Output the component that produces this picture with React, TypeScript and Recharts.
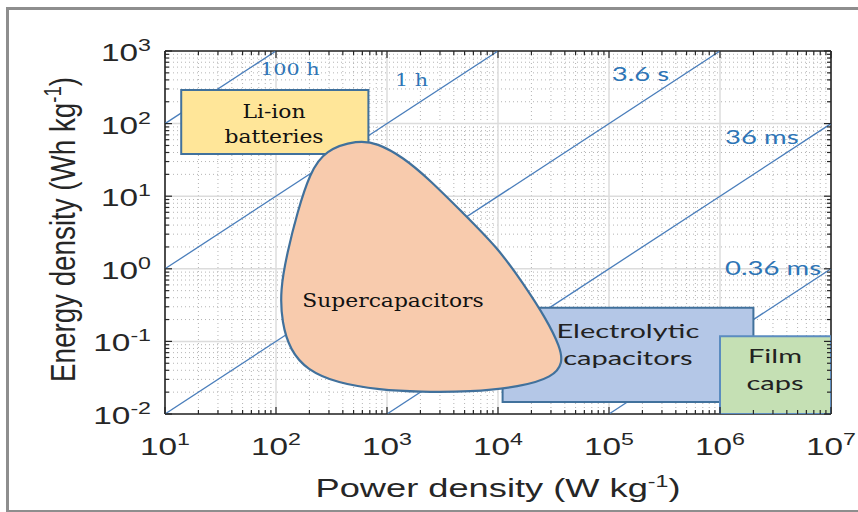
import React from 'react';
import { ScatterChart, Scatter, XAxis, YAxis, CartesianGrid, Label } from 'recharts';

// axis decades and minor multipliers
const xDecades = [10, 100, 1000, 1e4, 1e5, 1e6, 1e7];
const yDecades = [0.01, 0.1, 1, 10, 100, 1000];
const minorSteps = [2, 3, 4, 5, 6, 7, 8, 9];

// regions (P in W/kg, E in Wh/kg)
const liIonBox = [
  { x: 14, y: 38 }, { x: 680, y: 38 }, { x: 680, y: 290 }, { x: 14, y: 290 },
];
const electrolyticBox = [
  { x: 1.1e4, y: 0.0146 }, { x: 2e6, y: 0.0146 }, { x: 2e6, y: 0.29 }, { x: 1.1e4, y: 0.29 },
];
const filmBox = [
  { x: 1e6, y: 0.01 }, { x: 1e7, y: 0.01 }, { x: 1e7, y: 0.118 }, { x: 1e6, y: 0.118 },
];
const superCapOutline = [
  { x: 548, y: 59.4 }, { x: 276, y: 43.3 }, { x: 202, y: 20.9 }, { x: 155, y: 5.87 },
  { x: 126, y: 1.65 }, { x: 109, y: 0.51 }, { x: 113, y: 0.179 }, { x: 134, y: 0.076 },
  { x: 190, y: 0.0404 }, { x: 355, y: 0.0267 }, { x: 865, y: 0.0214 }, { x: 1980, y: 0.0201 },
  { x: 5600, y: 0.0201 }, { x: 15800, y: 0.0236 }, { x: 31300, y: 0.0323 }, { x: 38500, y: 0.0504 },
  { x: 36200, y: 0.0837 }, { x: 27600, y: 0.197 }, { x: 16800, y: 0.637 }, { x: 9800, y: 2.0 },
  { x: 4840, y: 5.87 }, { x: 2440, y: 16.7 }, { x: 1390, y: 34.7 }, { x: 813, y: 54 },
];

// constant discharge-time lines (end points)
const line100h = [{ x: 10, y: 100 }, { x: 100, y: 1000 }];
const line1h = [{ x: 10, y: 1 }, { x: 1e4, y: 1000 }];
const line3s = [{ x: 10, y: 0.01 }, { x: 1e6, y: 1000 }];
const line36ms = [{ x: 1000, y: 0.01 }, { x: 1e7, y: 100 }];
const line036ms = [{ x: 1e5, y: 0.01 }, { x: 1e7, y: 1 }];
const timeLines = [line100h, line1h, line3s, line36ms, line036ms];

const serifTimeLabels = [
  { x: 72, y: 467, text: '100 h' },
  { x: 1180, y: 330, text: '1 h' },
];
const sansTimeLabels = [
  { x: 1.06e5, y: 386, text: '3.6 s' },
  { x: 1.11e6, y: 52, text: '36 ms' },
  { x: 1.11e6, y: 0.82, text: '0.36 ms' },
];
const serifRegionLabels = [
  { x: 96, y: 119, text: 'Li-ion\nbatteries' },
  { x: 1132, y: 0.3, text: 'Supercapacitors' },
];
const sansRegionLabels = [
  { x: 1.48e5, y: 0.111, text: 'Electrolytic\ncapacitors' },
  { x: 3.13e6, y: 0.0504, text: 'Film\ncaps' },
];
const corners = [{ x: 10, y: 0.01 }, { x: 1e7, y: 1000 }];

const xTicks = [...xDecades, ...xDecades.slice(0, -1).flatMap((d) => minorSteps.map((m) => d * m))].sort((a, b) => a - b);
const yTicks = [...yDecades, ...yDecades.slice(0, -1).flatMap((d) => minorSteps.map((m) => d * m))].sort((a, b) => a - b);
const xMinor = xTicks.filter((v) => !xDecades.includes(v));
const yMinor = yTicks.filter((v) => !yDecades.includes(v));

const SX = 1.45;
const SX_SERIF = 1.15;
const AXIS = '#262626';
const EDGE = '#41719c';
const LINE = '#4a7ebb';
const BLUE_TXT = '#2e75b6';
const SANS = 'Liberation Sans, Arial, sans-serif';
const SERIF = 'DejaVu Serif, serif';
const CALI = 'Lato, Open Sans, sans-serif';

const isMajor = (v: number) => xDecades.includes(v) || yDecades.includes(v);
const expOf = (v: number) => String(Math.round(Math.log10(v)));

const Pow = ({ x, y, v, anchor }: any) => (
  <g transform={`translate(${x} ${y}) scale(${SX} 1)`}>
    <text x={0} y={0} textAnchor={anchor} style={{ fontFamily: SANS }} fontSize={23} fill={AXIS}>
      <tspan>10</tspan>
      <tspan dy={-10} fontSize={16}>{expOf(v)}</tspan>
    </text>
  </g>
);

const BottomTick = (p: any) => {
  const v = p.payload.value;
  const len = isMajor(v) ? 7 : 4;
  return (
    <g>
      <line x1={p.x} x2={p.x} y1={p.y} y2={p.y - len} stroke={AXIS} strokeWidth={1.2} />
      {isMajor(v) && <Pow x={p.x} y={p.y + 41} v={v} anchor="middle" />}
    </g>
  );
};
const LeftTick = (p: any) => {
  const v = p.payload.value;
  const len = isMajor(v) ? 7 : 4;
  return (
    <g>
      <line x1={p.x} x2={p.x + len} y1={p.y} y2={p.y} stroke={AXIS} strokeWidth={1.2} />
      {isMajor(v) && <Pow x={p.x - 14} y={p.y + 10} v={v} anchor="end" />}
    </g>
  );
};
const TopTick = (p: any) => {
  const len = isMajor(p.payload.value) ? 7 : 4;
  return <line x1={p.x} x2={p.x} y1={p.y} y2={p.y + len} stroke={AXIS} strokeWidth={1.2} />;
};
const RightTick = (p: any) => {
  const len = isMajor(p.payload.value) ? 7 : 4;
  return <line x1={p.x} x2={p.x - len} y1={p.y} y2={p.y} stroke={AXIS} strokeWidth={1.2} />;
};

const NoShape = () => <g />;

function MultiLine({ cx, cy, text, family, size, fill, anchor, lh, sx }: any) {
  const lines = String(text).split('\n');
  return (
    <g transform={`translate(${cx} ${cy}) scale(${sx} 1)`}>
      <text x={0} y={0} textAnchor={anchor} style={{ fontFamily: family, fontSize: size }} fill={fill}>
        {lines.map((l, i) => (
          <tspan key={i} x={0} dy={i === 0 ? 0 : lh}>{l}</tspan>
        ))}
      </text>
    </g>
  );
}

const SerifTimeLabel = (p: any) => (
  <MultiLine cx={p.cx} cy={p.cy} text={p.payload.text} family={SERIF} size={17} fill={BLUE_TXT} anchor="start" lh={0} sx={1.22} />
);
const SansTimeLabel = (p: any) => (
  <MultiLine cx={p.cx} cy={p.cy} text={p.payload.text} family={CALI} size={19} fill={BLUE_TXT} anchor="start" lh={0} sx={SX} />
);
const SerifRegionLabel = (p: any) => (
  <MultiLine cx={p.cx} cy={p.cy} text={p.payload.text} family={SERIF} size={19} fill="#111" anchor="middle" lh={25} sx={SX_SERIF} />
);
const SansRegionLabel = (p: any) => (
  <MultiLine cx={p.cx} cy={p.cy} text={p.payload.text} family={CALI} size={20} fill="#222" anchor="middle" lh={27} sx={SX} />
);

const XTitle = (p: any) => {
  const vb = p.viewBox;
  return (
    <g transform={`translate(${vb.x + vb.width / 2} ${vb.y + 83}) scale(${SX} 1)`}>
      <text textAnchor="middle" style={{ fontFamily: SANS }} fontSize={25} fill={AXIS}>
        Power density (W kg<tspan dy={-10} fontSize={16}>-1</tspan><tspan dy={10}>)</tspan>
      </text>
    </g>
  );
};
const YTitle = (p: any) => {
  const vb = p.viewBox;
  return (
    <g transform={`translate(75 ${vb.y + vb.height / 2 - 3}) scale(${SX} 1) rotate(-90)`}>
      <text textAnchor="middle" style={{ fontFamily: SANS }} fontSize={24} fill={AXIS} textLength={305} lengthAdjust="spacingAndGlyphs">
        Energy density (Wh kg<tspan dy={-10} fontSize={16}>-1</tspan><tspan dy={10}>)</tspan>
      </text>
    </g>
  );
};

export default function App() {
  return (
    <div style={{ position: 'absolute', left: 0, top: 0, width: 858, height: 512, background: '#fff' }}>
      <div
        style={{
          position: 'absolute', left: 6, top: 7, width: 880, height: 500,
          borderLeft: '3px solid #8e8e8e', borderTop: '3px solid #8e8e8e', borderBottom: '3px solid #8e8e8e',
        }}
      />
      <div style={{ position: 'absolute', left: 0, top: 0 }}>
        <ScatterChart width={858} height={512} margin={{ top: 41, right: 17, bottom: 0, left: 0 }}>
          <CartesianGrid verticalValues={xMinor} horizontalValues={yMinor} stroke="#b4b4b4" strokeDasharray="1 3" strokeWidth={1} />
          <CartesianGrid verticalValues={xDecades} horizontalValues={yDecades} stroke="#dcdcdc" strokeWidth={1.5} />
          <XAxis dataKey="x" type="number" scale="log" domain={[10, 1e7]} allowDataOverflow ticks={xTicks} interval={0}
            height={98} tickSize={0} tickMargin={0} tickLine={false} tick={<BottomTick />} stroke={AXIS} strokeWidth={1.6}>
            <Label content={<XTitle />} />
          </XAxis>
          <YAxis dataKey="y" type="number" scale="log" domain={[0.01, 1000]} allowDataOverflow ticks={yTicks} interval={0}
            width={165} tickSize={0} tickMargin={0} tickLine={false} tick={<LeftTick />} stroke={AXIS} strokeWidth={1.6}>
            <Label content={<YTitle />} />
          </YAxis>
          <XAxis xAxisId="top" orientation="top" dataKey="x" type="number" scale="log" domain={[10, 1e7]} allowDataOverflow
            ticks={xTicks} interval={0} height={10} tickSize={0} tickMargin={0} tickLine={false} tick={<TopTick />} stroke={AXIS} strokeWidth={1.6} />
          <YAxis yAxisId="right" orientation="right" dataKey="y" type="number" scale="log" domain={[0.01, 1000]} allowDataOverflow
            ticks={yTicks} interval={0} width={10} tickSize={0} tickMargin={0} tickLine={false} tick={<RightTick />} stroke={AXIS} strokeWidth={1.6} />
          <Scatter data={corners} xAxisId="top" yAxisId="right" shape={NoShape} isAnimationActive={false} />

          {timeLines.map((d, i) => (
            <Scatter key={i} data={d} line={{ stroke: LINE, strokeWidth: 1.3 }} lineJointType="linear" shape={NoShape} isAnimationActive={false} />
          ))}
          <Scatter data={serifTimeLabels} shape={SerifTimeLabel} isAnimationActive={false} />
          <Scatter data={sansTimeLabels} shape={SansTimeLabel} isAnimationActive={false} />

          <Scatter data={liIonBox} line={{ stroke: EDGE, strokeWidth: 2, fill: '#ffe699' }} lineJointType="linearClosed" shape={NoShape} isAnimationActive={false} />
          <Scatter data={electrolyticBox} line={{ stroke: EDGE, strokeWidth: 2, fill: '#b4c7e7' }} lineJointType="linearClosed" shape={NoShape} isAnimationActive={false} />
          <Scatter data={filmBox} line={{ stroke: '#5b8cc0', strokeWidth: 2, fill: '#c5e0b4' }} lineJointType="linearClosed" shape={NoShape} isAnimationActive={false} />
          <Scatter data={superCapOutline} line={{ stroke: EDGE, strokeWidth: 2.2, fill: '#f8cbad' }} lineJointType="basisClosed" shape={NoShape} isAnimationActive={false} />

          <Scatter data={serifRegionLabels} shape={SerifRegionLabel} isAnimationActive={false} />
          <Scatter data={sansRegionLabels} shape={SansRegionLabel} isAnimationActive={false} />
        </ScatterChart>
      </div>
    </div>
  );
}
